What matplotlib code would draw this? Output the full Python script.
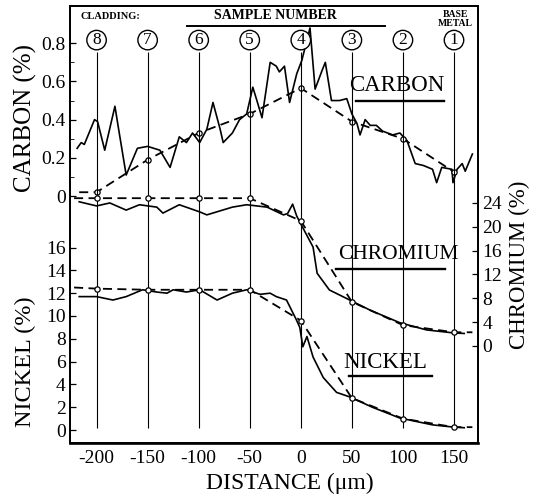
import numpy as np
import matplotlib
matplotlib.use('Agg')
import matplotlib.pyplot as plt

plt.rcParams['font.family'] = ['Liberation Serif', 'DejaVu Serif']
plt.rcParams['axes.unicode_minus'] = False

# sample positions (um) and their numbers
sample_x = [-200, -150, -100, -50, 0, 50, 100, 150]
sample_no = ['8', '7', '6', '5', '4', '3', '2', '1']

# measured profiles (solid)
carbon_x = [-219, -215, -212, -202, -199, -192, -182, -179, -171, -160, -150, -138, -128,
            -119, -112, -106, -99, -92, -86, -79, -76, -67, -60, -53, -47, -43, -38, -30,
            -24, -21, -16, -11, -4, 1, 9, 14, 21, 24, 30, 38, 45, 50, 55, 58, 63, 68, 74,
            80, 90, 97, 104, 112, 120, 129, 133, 138, 143, 148, 149, 153, 158, 161, 168]
carbon_y = [0.25, 0.28, 0.27, 0.40, 0.39, 0.24, 0.47, 0.37, 0.11, 0.25, 0.26, 0.24, 0.15,
            0.31, 0.28, 0.33, 0.28, 0.35, 0.49, 0.35, 0.28, 0.33, 0.40, 0.43, 0.57, 0.50, 0.41, 0.70,
            0.68, 0.65, 0.68, 0.49, 0.64, 0.71, 0.88, 0.56, 0.66, 0.70, 0.50, 0.50, 0.51, 0.43, 0.38,
            0.32, 0.40, 0.37, 0.37, 0.34, 0.32, 0.33, 0.29, 0.17, 0.16, 0.14, 0.07, 0.15, 0.145,
            0.14, 0.07, 0.14, 0.17, 0.13, 0.22]

chrom_x = [-217, -200, -187, -171, -158, -141, -135, -119, -99, -92, -67, -53, -33, -17,
           -13, -8, -4, -1, 12, 16, 28, 48, 68, 97, 123, 149, 160]
chrom_y = [24.2, 23.5, 24.0, 22.8, 23.7, 23.3, 22.3, 23.7, 22.5, 22.0, 23.3, 23.7, 23.3, 22.0,
           22.2, 23.8, 21.8, 20.8, 16.6, 12.2, 9.4, 7.7, 6.0, 3.9, 2.7, 2.2, 2.1]

nickel_x = [-217, -200, -184, -171, -155, -141, -131, -125, -112, -99, -82, -67, -53, -40,
            -30, -24, -14, -4, -1, 2, 6, 12, 22, 35, 48, 70, 97, 129, 149, 160]
nickel_y = [11.7, 11.7, 11.4, 11.7, 12.3, 12.1, 12.0, 12.3, 12.1, 12.3, 11.4, 12.0, 12.3, 11.9,
            12.0, 11.7, 11.4, 9.6, 9.0, 7.3, 8.2, 6.4, 4.6, 3.3, 2.9, 2.0, 1.05, 0.45, 0.26, 0.2]

# sample-averaged values (dashed)
carbon_dx = [-217, -200, -150, -100, -50, 0, 50, 100, 150]
carbon_dy = [0.02, 0.02, 0.19, 0.33, 0.43, 0.565, 0.39, 0.30, 0.126]
chrom_dx = [-222, -200, -150, -100, -50, 0, 50, 100, 150, 168]
chrom_dy = [24.8, 24.8, 24.8, 24.8, 24.8, 21.0, 7.4, 3.5, 2.3, 2.3]
nickel_dx = [-222, -200, -150, -100, -50, 0, 50, 100, 150, 168]
nickel_dy = [12.5, 12.4, 12.3, 12.3, 12.3, 9.6, 2.8, 1.0, 0.25, 0.25]

fig = plt.figure(figsize=(5.37, 4.99), dpi=100)
ax = fig.add_axes([70 / 537, 1 - 443 / 499, 408 / 537, 437 / 499])
axn = ax.twinx()
axr = ax.twinx()

ax.set_xlim(-226, 173.5)
ax.set_ylim(-1.293, 0.995)
axn.set_ylim(-1.14, 37.19)
axr.set_ylim(-16.28, 57.05)

dash = (0, (5, 3))
mk = dict(marker='o', markersize=3.8, markerfacecolor='white', markeredgecolor='k',
          markeredgewidth=0.9)

ax.plot(carbon_x, carbon_y, color='k', lw=1.2)
ax.plot(carbon_dx, carbon_dy, color='k', lw=1.3, linestyle=dash, markevery=list(range(1, 9)), **mk)
axr.plot(chrom_x, chrom_y, color='k', lw=1.2)
axr.plot(chrom_dx, chrom_dy, color='k', lw=1.3, linestyle=dash, markevery=list(range(1, 9)), **mk)
axn.plot(nickel_x, nickel_y, color='k', lw=1.2)
axn.plot(nickel_dx, nickel_dy, color='k', lw=1.3, linestyle=dash, markevery=list(range(1, 9)), **mk)

# sample lines and circled numbers
tr = ax.get_xaxis_transform()
ax.vlines(sample_x, 0.034, 0.895, transform=tr, color='k', lw=0.8)
for sx, no in zip(sample_x, sample_no):
    ax.text(sx, 0.922, no, transform=tr, ha='center', va='center', fontsize=12.5,
            bbox=dict(boxstyle='circle,pad=0.1', fc='white', ec='k', lw=1.0))

ax.text(-216, 0.977, 'CLADDING:', transform=tr, ha='left', va='center', fontsize=7.5,
        fontweight='bold')
ax.text(-25, 0.978, 'SAMPLE NUMBER', transform=tr, ha='center', va='center', fontsize=10,
        fontweight='bold')
ax.plot([-111, 82], [0.955, 0.955], transform=tr, color='k', lw=1.4)
ax.text(151, 0.97, 'BASE\nMETAL', transform=tr, ha='center', va='center', fontsize=7,
        fontweight='bold', linespacing=0.9)

# curve names
ax.text(94, 0.58, 'CARBON', ha='center', va='center', fontsize=16.5)
ax.plot([54, 140], [0.50, 0.50], color='k', lw=1.7)
axr.text(95, 15.3, 'CHROMIUM', ha='center', va='center', fontsize=15.5)
axr.plot([34, 141], [12.9, 12.9], color='k', lw=1.7)
axn.text(83, 5.9, 'NICKEL', ha='center', va='center', fontsize=16.5)
axn.plot([47, 128], [4.7, 4.7], color='k', lw=1.7)

# ticks
ax.set_xticks([-200, -150, -100, -50, 0, 50, 100, 150])
ax.set_yticks([0, 0.2, 0.4, 0.6, 0.8])
ax.set_yticklabels(['0', '0.2', '0.4', '0.6', '0.8'])
ax.set_yticks([0.1, 0.3, 0.5, 0.7], minor=True)
axn.yaxis.set_ticks_position('left')
axn.set_yticks(range(0, 17, 2))
axr.set_yticks(range(0, 25, 4))
for a in (ax, axn, axr):
    a.tick_params(direction='in', labelsize=14, length=4, width=0.9, pad=3)
    a.tick_params(which='minor', direction='in', length=3)
    for s in a.spines.values():
        s.set_linewidth(1.1)
ax.spines['bottom'].set_linewidth(1.9)
ax.tick_params(axis='x', length=0, pad=5)

fig.text(25 / 537, 1 - 118 / 499, 'CARBON (%)', rotation=90, ha='center', va='center', fontsize=18)
fig.text(25 / 537, 1 - 362 / 499, 'NICKEL (%)', rotation=90, ha='center', va='center', fontsize=17.5)
fig.text(519 / 537, 1 - 265 / 499, 'CHROMIUM (%)', rotation=90, ha='center', va='center', fontsize=16.5)
fig.text(290 / 537, 1 - 483 / 499, 'DISTANCE (\u03bcm)', ha='center', va='center', fontsize=17)

fig.savefig('out.png', dpi=100)
